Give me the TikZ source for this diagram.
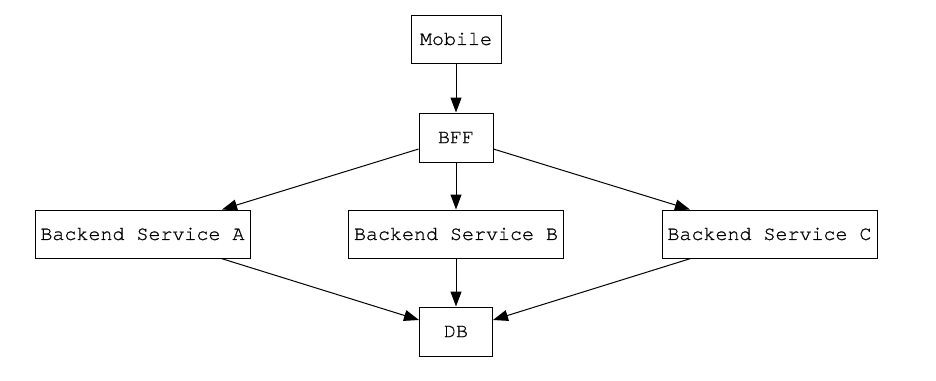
\documentclass[tikz,border=0pt]{standalone}
\usepackage{fontspec}
\setmonofont[FakeBold=0.8]{TeX Gyre Cursor}
\usetikzlibrary{arrows.meta}
\begin{document}
\begin{tikzpicture}[x=1pt,y=-1pt,
  box/.style={draw,line width=1pt,inner sep=0pt,font=\ttfamily\fontsize{20}{24}\selectfont},
  edge/.style={line width=1pt,-{Triangle[length=15pt,width=11pt]}}]
\useasboundingbox (0,0) rectangle (936,380);
\node[box,minimum width=90pt,minimum height=48pt] (mobile) at (456,39) {Mobile};
\node[box,minimum width=74pt,minimum height=49pt] (bff) at (456,137.5) {BFF};
\node[box,minimum width=215pt,minimum height=48pt] (a) at (142.5,234) {Backend Service A};
\node[box,minimum width=215pt,minimum height=48pt] (b) at (456,234) {Backend Service B};
\node[box,minimum width=215pt,minimum height=48pt] (c) at (769.5,234) {Backend Service C};
\node[box,minimum width=73pt,minimum height=49pt] (db) at (456,331.5) {DB};
\draw[edge] (mobile) -- (bff);
\draw[edge] (bff) -- (a);
\draw[edge] (bff) -- (b);
\draw[edge] (bff) -- (c);
\draw[edge] (a) -- (db);
\draw[edge] (b) -- (db);
\draw[edge] (c) -- (db);
\end{tikzpicture}
\end{document}
